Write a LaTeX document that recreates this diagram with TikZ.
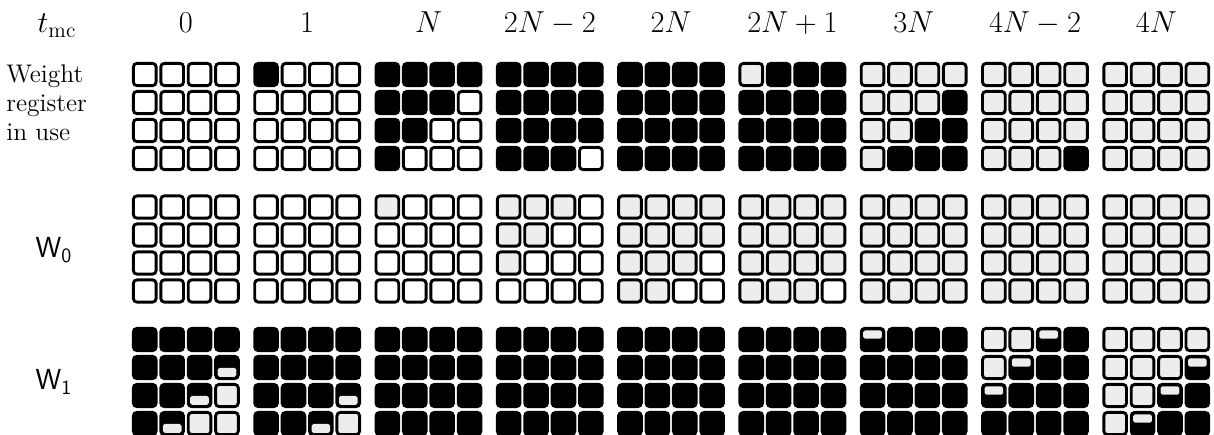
\documentclass[tikz,border=0pt]{standalone}
\usepackage{fontspec}
\usepackage{tikz}
\usetikzlibrary{calc}

\definecolor{stip}{gray}{0.93}

% one 4x4 register block: left x, top y, cell states row by row
\newcommand\regblock[3]{%
  \foreach \s [count=\k from 0] in {#3} {
    \pgfmathsetmacro\cx{#1+27.4*mod(\k,4)}
    \pgfmathsetmacro\cy{#2+28*int(\k/4)}
    \draw[c-\s] (\cx+1.4,\cy+1.4) rectangle ++(22.7,22.2);
  }%
}
% one time step: column index, then the three blocks
\newcommand\regcol[4]{%
  \regblock{132+121.3*#1}{62}{#2}%
  \regblock{132+121.3*#1}{194.5}{#3}%
  \regblock{132+121.3*#1}{327}{#4}%
}

\begin{document}
\begin{tikzpicture}[
    x=0.02cm, y=-0.02cm,
    every node/.style={inner sep=0pt},
    head/.style={anchor=base, font=\fontsize{17.5}{21}\selectfont},
    side/.style={anchor=base west, font=\fontsize{14.5}{18}\selectfont},
    wlab/.style={font=\fontsize{16.5}{19}\selectfont},
    cell/.style={line width=1.65pt, rounded corners=2pt},
    c-w/.style={cell, draw, fill=white},
    c-g/.style={cell, draw, fill=stip},
    c-b/.style={cell, draw, fill=black},
    c-t/.style={c-b, path picture={\fill[stip, rounded corners=1pt]
      ($(path picture bounding box.north west)+(2,1.9)$) rectangle
      ($(path picture bounding box.north east)+(-2,10.3)$);}},
    c-d/.style={c-b, path picture={\fill[stip, rounded corners=1pt]
      ($(path picture bounding box.south west)+(2,-10.6)$) rectangle
      ($(path picture bounding box.south east)+(-2,-1.8)$);}}
  ]
    \useasboundingbox (0,0) rectangle (1214,435);

    % time labels
    \node[head] (tmc) at (57,33) {$t_{\mathrm{mc}}$};
    \foreach \lab [count=\g from 0] in {0,1,N,2N-2,2N,2N+1,3N,4N-2,4N}
      \node[head] (h\g) at (185.9+121.3*\g,33) {$\lab$};

    % row labels
    \node[side] (reg1) at (6,83) {Weight};
    \node[side] (reg2) at (6,112) {register};
    \node[side] (reg3) at (6,141) {in use};
    \node[wlab] (w0) at (54,250) {$\mathsf{W}_{\mathsf{0}}$};
    \node[wlab] (w1) at (54,382) {$\mathsf{W}_{\mathsf{1}}$};

    % register states
    \regcol{0}{w,w,w,w,w,w,w,w,w,w,w,w,w,w,w,w}{w,w,w,w,w,w,w,w,w,w,w,w,w,w,w,w}{b,b,b,b,b,b,b,d,b,b,d,g,b,d,g,g}
    \regcol{1}{b,w,w,w,w,w,w,w,w,w,w,w,w,w,w,w}{w,w,w,w,w,w,w,w,w,w,w,w,w,w,w,w}{b,b,b,b,b,b,b,b,b,b,b,d,b,b,d,g}
    \regcol{2}{b,b,b,b,b,b,b,w,b,b,w,w,b,w,w,w}{g,w,w,w,w,w,w,w,w,w,w,w,w,w,w,w}{b,b,b,b,b,b,b,b,b,b,b,b,b,b,b,b}
    \regcol{3}{b,b,b,b,b,b,b,b,b,b,b,b,b,b,b,w}{g,g,g,w,g,g,w,w,g,w,w,w,w,w,w,w}{b,b,b,b,b,b,b,b,b,b,b,b,b,b,b,b}
    \regcol{4}{b,b,b,b,b,b,b,b,b,b,b,b,b,b,b,b}{g,g,g,g,g,g,g,g,g,g,g,w,g,g,w,w}{b,b,b,b,b,b,b,b,b,b,b,b,b,b,b,b}
    \regcol{5}{g,b,b,b,b,b,b,b,b,b,b,b,b,b,b,b}{g,g,g,g,g,g,g,g,g,g,g,g,g,g,g,w}{b,b,b,b,b,b,b,b,b,b,b,b,b,b,b,b}
    \regcol{6}{g,g,g,g,g,g,g,b,g,g,b,b,g,b,b,b}{g,g,g,g,g,g,g,g,g,g,g,g,g,g,g,g}{t,b,b,b,b,b,b,b,b,b,b,b,b,b,b,b}
    \regcol{7}{g,g,g,g,g,g,g,g,g,g,g,g,g,g,g,b}{g,g,g,g,g,g,g,g,g,g,g,g,g,g,g,g}{g,g,t,b,g,t,b,b,t,b,b,b,b,b,b,b}
    \regcol{8}{g,g,g,g,g,g,g,g,g,g,g,g,g,g,g,g}{g,g,g,g,g,g,g,g,g,g,g,g,g,g,g,g}{g,g,g,g,g,g,g,t,g,g,t,b,g,t,b,b}
\end{tikzpicture}
\end{document}
